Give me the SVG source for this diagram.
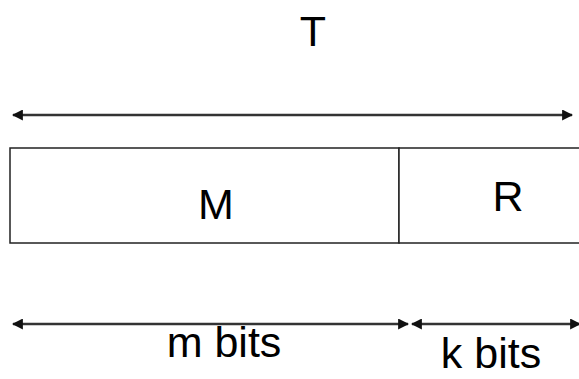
<svg xmlns="http://www.w3.org/2000/svg" width="579" height="379" viewBox="0 0 579 379">
<style>
.lbl{font-family:"Liberation Sans",Arial,sans-serif;font-size:43px;fill:#000;text-anchor:middle}
.box{fill:#fff;stroke:#222;stroke-width:1.5}
.arr{stroke:#333;stroke-width:2.5;fill:none;marker-start:url(#ah);marker-end:url(#ah)}
</style>
<defs>
<marker id="ah" viewBox="0 0 10 10" refX="9" refY="5" markerWidth="4.4" markerHeight="4.4" orient="auto-start-reverse" markerUnits="strokeWidth">
<path d="M0,0 L10,5 L0,10 z" fill="#111"/>
</marker>
</defs>
<rect width="579" height="379" fill="#fff"/>
<g id="T"><text class="lbl" x="313" y="46">T</text></g>
<g id="M"><rect class="box" x="10" y="148" width="389" height="95"/><text class="lbl" x="216" y="219">M</text></g>
<g id="R"><rect class="box" x="399" y="148" width="190" height="95"/><text class="lbl" x="508" y="211">R</text></g>
<g id="labels">
<text class="lbl" x="224" y="357">m bits</text>
<text class="lbl" x="491" y="368">k bits</text>
</g>
<g id="connectors">
<line class="arr" x1="13" y1="115" x2="572" y2="115"/>
<line class="arr" x1="13" y1="324" x2="408" y2="324"/>
<line class="arr" x1="412" y1="324" x2="580" y2="324"/>
</g>
</svg>
